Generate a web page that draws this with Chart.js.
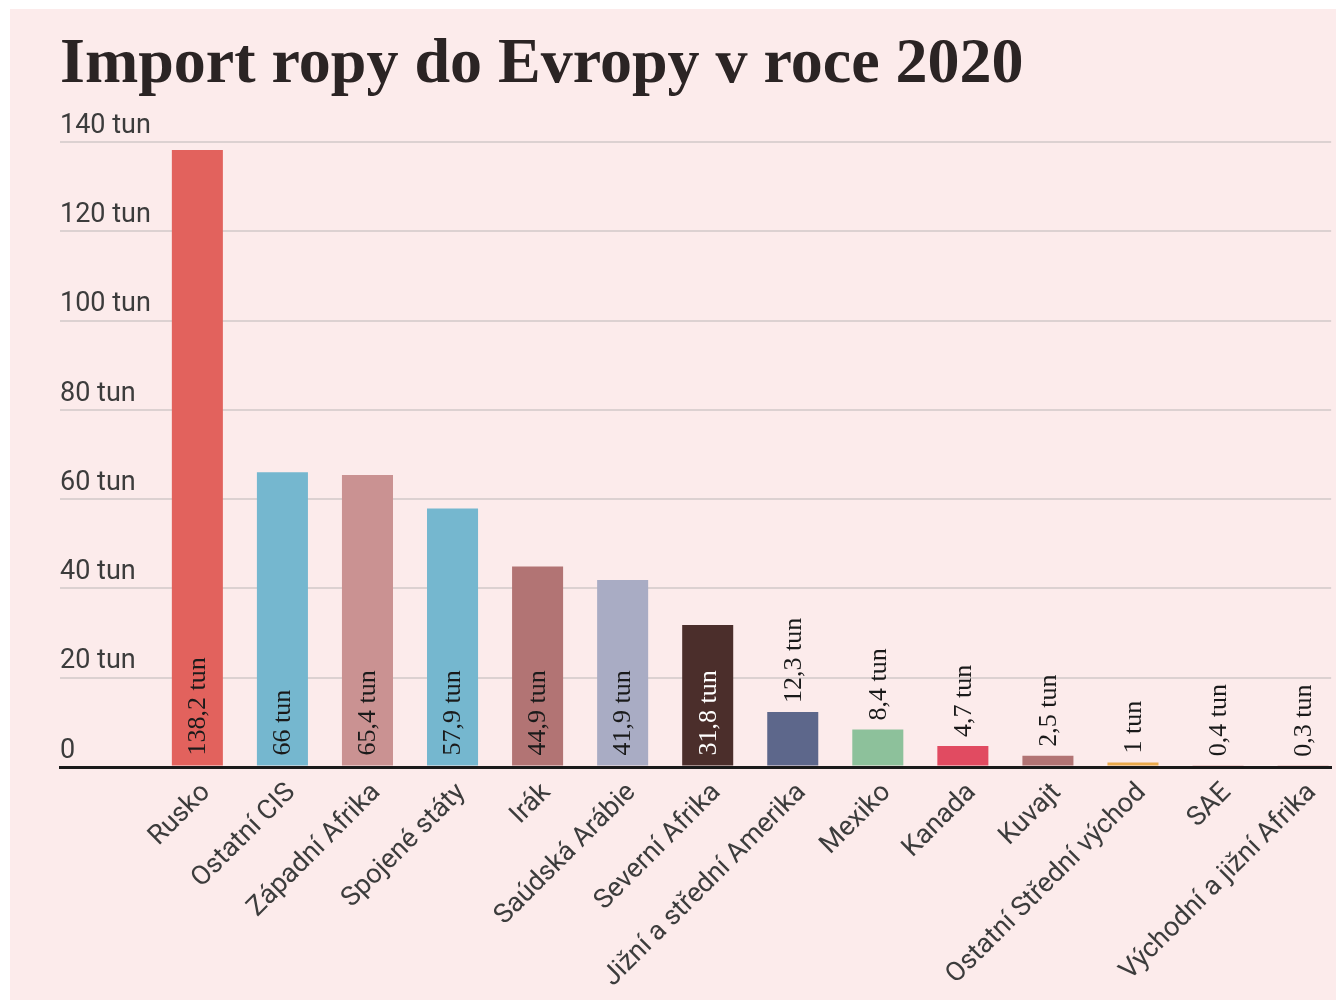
<!DOCTYPE html>
<html>
<head>
<meta charset="utf-8">
<script src="https://cdn.jsdelivr.net/npm/chart.js@4.4.1/dist/chart.umd.min.js"></script>
<style>
  html, body { margin: 0; padding: 0; background: #ffffff; width: 1336px; height: 1000px; overflow: hidden; }
  #wrap { position: absolute; left: 10px; top: 9px; width: 1326px; height: 991px; background: #fcebeb; }
</style>
</head>
<body>
<div id="wrap"><canvas id="c"></canvas></div>
<script>
const titleText = 'Import ropy do Evropy v roce 2020';
const categories = ['Rusko', 'Ostatní CIS', 'Západní Afrika', 'Spojené státy', 'Irák', 'Saúdská Arábie', 'Severní Afrika', 'Jižní a střední Amerika', 'Mexiko', 'Kanada', 'Kuvajt', 'Ostatní Střední východ', 'SAE', 'Východní a jižní Afrika'];
const values = [138.2, 66, 65.4, 57.9, 44.9, 41.9, 31.8, 12.3, 8.4, 4.7, 2.5, 1, 0.4, 0.3];
const yTicks = [0, 20, 40, 60, 80, 100, 120, 140];
const unit = 'tun';

const barColors = ['#e2625d', '#75b7cf', '#ca9292', '#75b7cf', '#b27474', '#a9acc4', '#4b2e2b', '#5d678b', '#8dc19b', '#e14b61', '#b27474', '#eaaa4c', '#c27878', '#c27878'];
const valueLabelColors = ['#1a1a1a', '#1a1a1a', '#1a1a1a', '#1a1a1a', '#1a1a1a', '#1a1a1a', '#ffffff', '#1a1a1a', '#1a1a1a', '#1a1a1a', '#1a1a1a', '#1a1a1a', '#1a1a1a', '#1a1a1a'];

const fmt = v => String(v).replace('.', ',');

const valueLabelPlugin = {
  id: 'valueLabels',
  afterDatasetsDraw(chart) {
    const ctx = chart.ctx;
    const meta = chart.getDatasetMeta(0);
    ctx.save();
    ctx.font = '26px "Liberation Serif", serif';
    ctx.textAlign = 'left';
    ctx.textBaseline = 'middle';
    meta.data.forEach((el, i) => {
      const v = values[i];
      const inside = v > 20;
      const startY = inside ? el.base - 10 : el.y - 9;
      ctx.save();
      ctx.translate(el.x + 1, startY);
      ctx.rotate(-Math.PI / 2);
      ctx.fillStyle = inside ? valueLabelColors[i] : '#1a1a1a';
      ctx.fillText(fmt(v) + ' ' + unit, 0, 0);
      ctx.restore();
    });
    ctx.restore();
  }
};

new Chart(document.getElementById('c'), {
  type: 'bar',
  data: {
    datasets: [{
      data: values.map((v, i) => ({ x: i, y: v })),
      backgroundColor: barColors,
      borderWidth: 0,
      barPercentage: 0.6,
      categoryPercentage: 1
    }]
  },
  options: {
    responsive: true,
    maintainAspectRatio: false,
    animation: false,
    layout: { padding: { left: 50, right: 0, top: 0, bottom: 0 } },
    plugins: {
      legend: { display: false },
      tooltip: { enabled: false },
      title: {
        display: true,
        text: titleText,
        align: 'start',
        color: '#2b2424',
        font: { family: '"Liberation Serif", serif', size: 64, weight: 'bold', lineHeight: 1 },
        padding: { top: 24, bottom: 45 }
      }
    },
    scales: {
      x: {
        type: 'linear',
        min: -1.615,
        max: 13.33,
        offset: false,
        afterBuildTicks: scale => { scale.ticks = categories.map((c, i) => ({ value: i })); },
        afterFit: scale => { scale.height = 233; },
        grid: { display: false, drawTicks: false },
        border: { display: true, color: '#1a1a1a', width: 3 },
        ticks: {
          autoSkip: false,
          minRotation: 45,
          maxRotation: 45,
          padding: 10,
          labelOffset: 9,
          color: '#3c3c3c',
          font: { family: 'Roboto, sans-serif', size: 27 },
          callback: value => categories[value] ?? ''
        }
      },
      y: {
        type: 'linear',
        min: yTicks[0],
        max: yTicks[yTicks.length - 1],
        afterBuildTicks: scale => { scale.ticks = yTicks.map(v => ({ value: v })); },
        afterFit: scale => { scale.width = 0; },
        grid: {
          drawTicks: false,
          color: c => c.tick && c.tick.value === 0 ? '#1a1a1a' : '#dcd1d1',
          lineWidth: c => c.tick && c.tick.value === 0 ? 3 : 2
        },
        border: { display: false },
        ticks: {
          mirror: true,
          padding: 0,
          labelOffset: -16,
          color: '#3c3c3c',
          font: { family: 'Roboto, sans-serif', size: 27 },
          callback: v => v === 0 ? '0' : v + ' ' + unit
        }
      }
    }
  },
  plugins: [valueLabelPlugin]
});
</script>
</body>
</html>
